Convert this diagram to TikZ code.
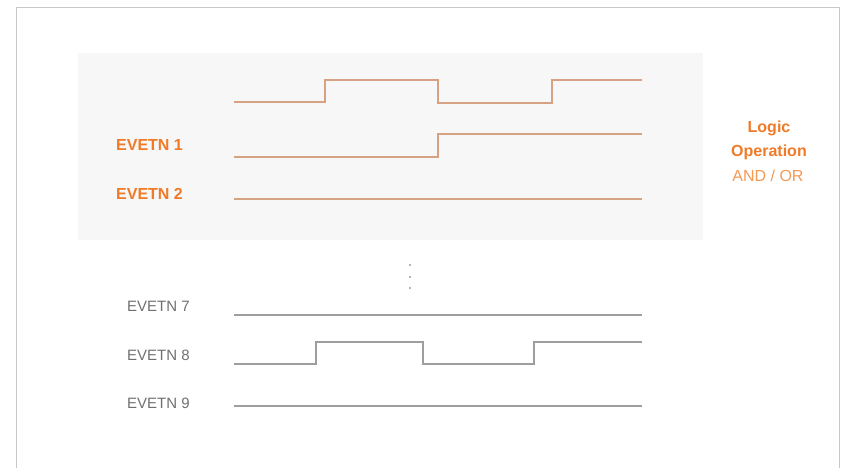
\documentclass[tikz,border=0pt]{standalone}
\usepackage{fontspec}
\setmainfont{Liberation Sans}
\definecolor{frame}{HTML}{C8C8C8}
\definecolor{panel}{HTML}{F7F7F7}
\definecolor{owave}{HTML}{D6A283}
\definecolor{gwave}{HTML}{9E9E9E}
\definecolor{otext}{HTML}{F07A28}
\definecolor{otextlight}{HTML}{F39A55}
\definecolor{gtext}{HTML}{707070}
\tikzset{
  owavestyle/.style={draw=owave, line width=2pt, line join=miter},
  gwavestyle/.style={draw=gwave, line width=1.6pt, line join=miter},
  olabel/.style={text=otext, font=\fontsize{16}{19}\selectfont\bfseries, anchor=west, inner sep=0pt},
  glabel/.style={text=gtext, font=\fontsize{15}{18}\selectfont, anchor=west, inner sep=0pt},
  logicb/.style={text=otext, font=\fontsize{16}{19}\selectfont\bfseries, align=center, inner sep=0pt},
  logicr/.style={text=otextlight, font=\fontsize{16}{19}\selectfont, align=center, inner sep=0pt},
}
\begin{document}
\begin{tikzpicture}[x=1pt, y=-1pt]
\useasboundingbox (0,0) rectangle (855,467);
\fill[white] (0,0) rectangle (855,467);
% outer frame
\draw[frame, line width=1pt] (16,470) -- (16,7.5) -- (839,7.5) -- (839,470);
% shaded panel
\fill[panel] (78,53) rectangle (703,240);
% orange waveforms
\draw[owavestyle] (234,102) -- (325,102) -- (325,80) -- (438,80) -- (438,103) -- (552,103) -- (552,80) -- (642,80);
\draw[owavestyle] (234,157) -- (438,157) -- (438,134) -- (642,134);
\draw[owavestyle] (234,199) -- (642,199);
\node[olabel] (e1) at (116,145) {EVETN 1};
\node[olabel] (e2) at (116,194) {EVETN 2};
% logic operation
\node[logicb] (lo1) at (769,128) {Logic};
\node[logicb] (lo2) at (769,152) {Operation};
\node[logicr] (lo3) at (768,176) {AND / OR};
% dots
\foreach \yy in {265,277,288} \fill[gwave] (410,\yy) circle (1.2pt);
% gray waveforms
\draw[gwavestyle] (234,315) -- (642,315);
\draw[gwavestyle] (234,364) -- (316,364) -- (316,342) -- (423,342) -- (423,364) -- (534,364) -- (534,342) -- (642,342);
\draw[gwavestyle] (234,406) -- (642,406);
\node[glabel] (e7) at (127,306) {EVETN 7};
\node[glabel] (e8) at (127,355) {EVETN 8};
\node[glabel] (e9) at (127,403) {EVETN 9};
\end{tikzpicture}
\end{document}
